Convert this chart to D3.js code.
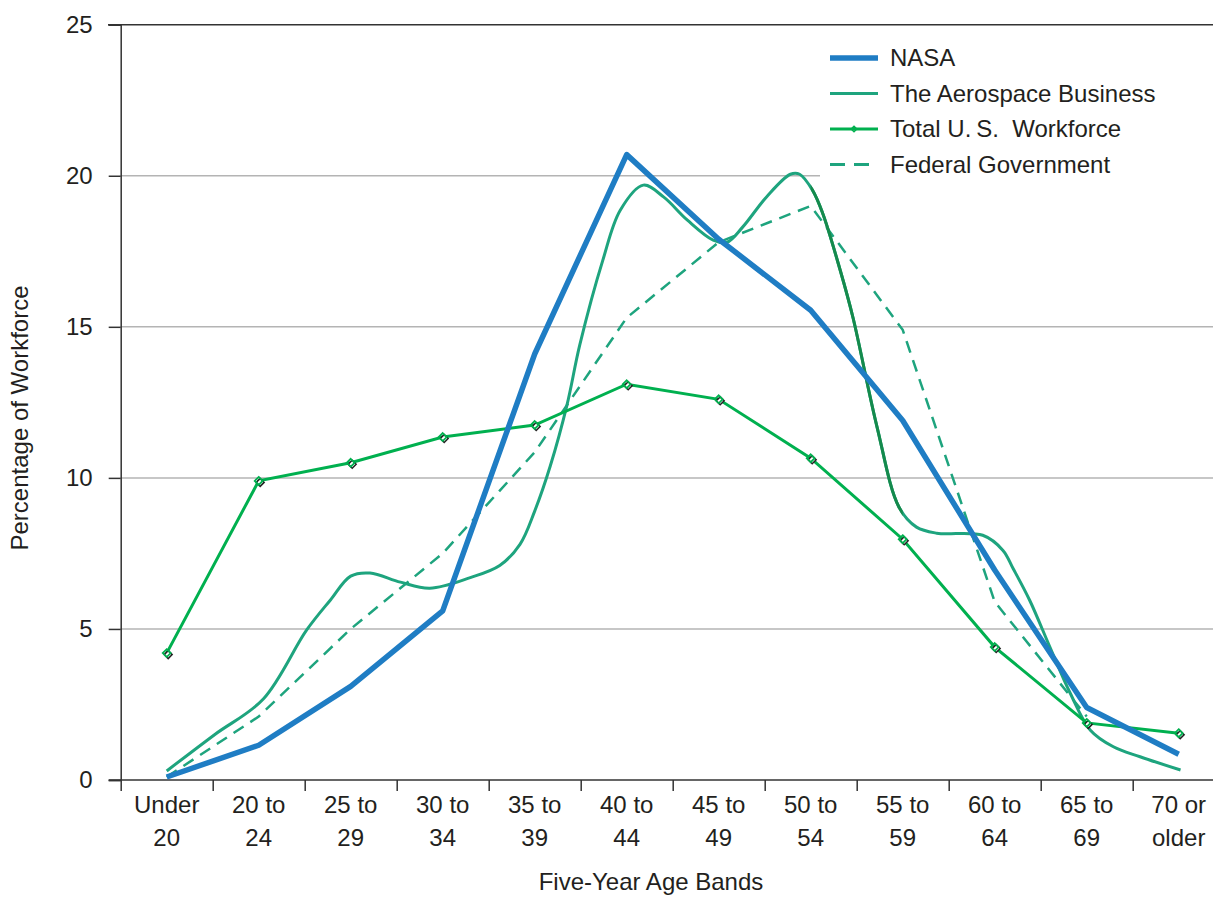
<!DOCTYPE html>
<html>
<head>
<meta charset="utf-8">
<script src="https://cdn.jsdelivr.net/npm/d3@7"></script>
<style>
  body { margin: 0; background: #fff; }
  svg { display: block; font-family: "Liberation Sans", Arial, sans-serif; }
</style>
</head>
<body>
<svg id="chart" width="1213" height="897"></svg>
<script>
// categories (two-line labels)
const categories = [
  ["Under", "20"], ["20 to", "24"], ["25 to", "29"], ["30 to", "34"],
  ["35 to", "39"], ["40 to", "44"], ["45 to", "49"], ["50 to", "54"],
  ["55 to", "59"], ["60 to", "64"], ["65 to", "69"], ["70 or", "older"]
];
const yTicks = [0, 5, 10, 15, 20, 25];

// series values, one per age band
const nasa = [0.1, 1.15, 3.1, 5.6, 14.1, 20.7, 17.9, 15.55, 11.9, 6.95, 2.4, 0.85];
const totalUS = [4.2, 9.9, 10.5, 11.35, 11.75, 13.1, 12.6, 10.65, 7.97, 4.4, 1.89, 1.55];
const federal = [0.1, 2.1, 5.0, 7.5, 10.85, 15.3, 17.8, 19.0, 14.9, 5.9, 2.1, null];

// aerospace business is a smooth curve, read at positions along the band axis
const aeroAt = [0, 0.52, 1.05, 1.52, 1.78, 2.0, 2.21, 2.54, 2.86, 3.3, 3.62, 3.84, 4.0, 4.17,
  4.35, 4.49, 4.74, 4.93, 5.18, 5.4, 5.66, 5.94, 6.09, 6.26, 6.52, 6.78, 6.88, 7.02, 7.13,
  7.32, 7.46, 7.72, 7.96, 8.15, 8.37, 8.87, 9.09, 9.2, 9.38, 9.6, 9.82, 10.04, 10.29, 10.58, 11.02];
const aeroVal = [0.3, 1.5, 2.68, 4.96, 5.96, 6.75, 6.85, 6.55, 6.35, 6.7, 7.1, 7.8, 8.9, 10.4,
  12.4, 14.4, 17.2, 18.86, 19.69, 19.3, 18.53, 17.87, 17.8, 18.3, 19.3, 20.05, 20.05, 19.52, 18.76,
  16.88, 15.3, 11.7, 9.03, 8.37, 8.17, 8.1, 7.6, 7.0, 5.95, 4.4, 2.88, 1.65, 1.1, 0.77, 0.33];

const legendItems = ["NASA", "The Aerospace Business", "Total U.\u2009S.\u00a0 Workforce", "Federal Government"];

const blue = "#1f7dc4", teal = "#1ea47e", green = "#00b04f", darkGreen = "#158a4c";
const textColor = "#231f20";

const svg = d3.select("#chart");

// scales: band index on x, percentage on y
const x = d3.scaleLinear().domain([-0.5, 11.5]).range([120.7, 1224.7]);
const y = d3.scaleLinear().domain([0, 25]).range([780, 24.7]);

// gridlines
svg.append("g")
  .selectAll("line")
  .data(yTicks.filter(d => d > 0 && d < 25))
  .join("line")
  .attr("x1", x(-0.5)).attr("x2", 1213)
  .attr("y1", d => y(d)).attr("y2", d => y(d))
  .attr("stroke", "#b4b4b4")
  .attr("stroke-width", 1.5);

// top border line
svg.append("line")
  .attr("x1", 108).attr("x2", 1213)
  .attr("y1", y(25)).attr("y2", y(25))
  .attr("stroke", "#333").attr("stroke-width", 1.5);

// y axis
const yAxis = svg.append("g")
  .attr("transform", `translate(${x(-0.5)},0)`)
  .call(d3.axisLeft(y).tickValues(yTicks).tickSize(12).tickPadding(16));
yAxis.select(".domain").attr("stroke", "#333").attr("stroke-width", 1.5);
yAxis.selectAll(".tick line").attr("stroke", "#333").attr("stroke-width", 1.5);
yAxis.selectAll(".tick text")
  .attr("fill", textColor)
  .style("font-size", "24px")
  .style("font-family", "Liberation Sans, Arial, sans-serif");

// x axis (ticks at band boundaries)
const bounds = d3.range(0, 12).map(i => i - 0.5);
const xAxis = svg.append("g")
  .attr("transform", `translate(0,${y(0)})`)
  .call(d3.axisBottom(x).tickValues(bounds).tickSize(11).tickFormat(""));
xAxis.select(".domain").attr("d", `M${x(-0.5) - 12},0H1213`)
  .attr("stroke", "#333").attr("stroke-width", 1.5);
xAxis.selectAll(".tick line").attr("stroke", "#333").attr("stroke-width", 1.5);

// category labels
const catLabels = svg.append("g")
  .selectAll("text")
  .data(categories)
  .join("text")
  .attr("text-anchor", "middle")
  .attr("fill", textColor)
  .style("font-size", "24px")
  .attr("transform", (d, i) => `translate(${Math.min(x(i), 1184)},0)`);
catLabels.append("tspan").attr("x", 0).attr("y", 813).text(d => d[0]);
catLabels.append("tspan").attr("x", 0).attr("y", 846).text(d => d[1]);

// axis titles
svg.append("text")
  .attr("text-anchor", "middle")
  .attr("x", 651).attr("y", 890)
  .attr("fill", textColor)
  .style("font-size", "24px")
  .text("Five-Year Age Bands");

svg.append("text")
  .attr("text-anchor", "middle")
  .attr("transform", "rotate(-90)")
  .attr("x", -418).attr("y", 28)
  .attr("fill", textColor)
  .style("font-size", "24px")
  .text("Percentage of Workforce");

// lines
const line = d3.line()
  .defined(d => d != null)
  .x((d, i) => x(i))
  .y(d => y(d));

const aeroPts = aeroAt.map((p, i) => [p, aeroVal[i]]);
const aeroLine = d3.line()
  .x(d => x(d[0]))
  .y(d => y(d[1]))
  .curve(d3.curveCatmullRom.alpha(0.5));

svg.append("defs").append("clipPath")
  .attr("id", "darkSeg")
  .append("rect")
  .attr("x", x(7)).attr("y", 0)
  .attr("width", x(8) - x(7)).attr("height", 897);

// legend background (hides gridline)
svg.append("rect")
  .attr("x", 820).attr("y", 34)
  .attr("width", 393).attr("height", 150)
  .attr("fill", "#fff");

svg.append("path")
  .datum(federal)
  .attr("d", line)
  .attr("fill", "none")
  .attr("stroke", teal)
  .attr("stroke-width", 2.5)
  .attr("stroke-dasharray", "12,8");

svg.append("path")
  .datum(aeroPts)
  .attr("d", aeroLine)
  .attr("fill", "none")
  .attr("stroke", teal)
  .attr("stroke-width", 3);

svg.append("path")
  .datum(aeroPts)
  .attr("d", aeroLine)
  .attr("clip-path", "url(#darkSeg)")
  .attr("fill", "none")
  .attr("stroke", darkGreen)
  .attr("stroke-width", 3);

svg.append("path")
  .datum(totalUS)
  .attr("d", line)
  .attr("fill", "none")
  .attr("stroke", green)
  .attr("stroke-width", 3);

// diamond markers
const diamond = d3.symbol().type(d3.symbolDiamond2).size(40);
const markers = svg.append("g")
  .selectAll("g")
  .data(totalUS)
  .join("g")
  .attr("transform", (d, i) => `translate(${x(i)},${y(d)})`);
markers.append("path")
  .attr("d", diamond)
  .attr("transform", "translate(1.5,1.5)")
  .attr("fill", "#fff")
  .attr("stroke", "#222")
  .attr("stroke-width", 1.5);
markers.append("path")
  .attr("d", diamond)
  .attr("fill", "none")
  .attr("stroke", green)
  .attr("stroke-width", 1.8);

svg.append("path")
  .datum(nasa)
  .attr("d", line)
  .attr("fill", "none")
  .attr("stroke", blue)
  .attr("stroke-width", 5.5)
  .attr("stroke-linejoin", "round");

// legend
const legend = svg.append("g");
const rows = legend.selectAll("g")
  .data(legendItems)
  .join("g")
  .attr("transform", (d, i) => `translate(830,${58 + i * 35.5})`);

rows.append("line")
  .attr("x1", 0).attr("x2", 48)
  .attr("stroke", (d, i) => [blue, teal, green, teal][i])
  .attr("stroke-width", (d, i) => [5.5, 3, 3, 3][i])
  .attr("stroke-dasharray", (d, i) => i === 3 ? "15,9" : null);

rows.filter((d, i) => i === 2)
  .append("path")
  .attr("d", d3.symbol().type(d3.symbolDiamond2).size(20))
  .attr("transform", "translate(24,0)")
  .attr("fill", "none")
  .attr("stroke", green)
  .attr("stroke-width", 1.5);

rows.append("text")
  .attr("x", 60).attr("dy", "0.35em")
  .attr("fill", textColor)
  .style("font-size", "24px")
  .style("white-space", "pre")
  .text(d => d);
</script>
</body>
</html>
